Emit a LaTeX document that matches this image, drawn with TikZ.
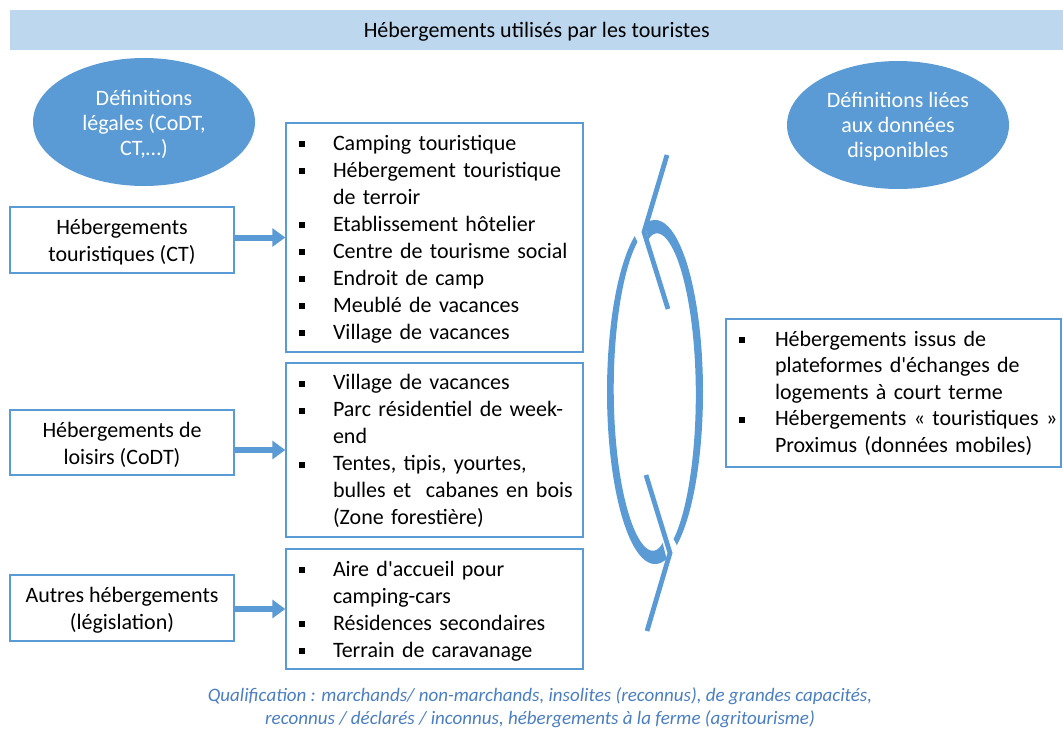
\documentclass[tikz,border=0pt]{standalone}
\usepackage{fontspec}
\setmainfont{Carlito}[Ligatures=TeXOff]
\usetikzlibrary{arrows.meta,shapes.geometric}
\definecolor{mblue}{HTML}{5B9BD5}
\definecolor{lblue}{HTML}{BDD7EE}
\definecolor{capblue}{HTML}{4A7EC2}
\newcommand{\bul}{\hspace{7pt}\rule[3pt]{6pt}{6pt}}
\newcommand{\shiftdown}[2]{\raisebox{-#1}[\height][\depth]{#2}}
\tikzset{
  box/.style={draw=mblue, line width=1.4pt, rectangle, inner sep=0pt, align=center, font=\fontsize{22}{27}\selectfont},
  listbox/.style={draw=mblue, line width=1.4pt, rectangle, inner xsep=6pt, inner ysep=0pt, align=left, font=\fontsize{22}{27}\selectfont},
  ell/.style={ellipse, fill=mblue, text=white, inner sep=0pt, minimum width=222pt, minimum height=128pt, align=center, font=\fontsize{22}{25}\selectfont},
  bigarrow/.style={draw=mblue, line width=6pt, -{Triangle[length=13pt,width=18pt]}},
  circarrow/.style={fill=mblue},
  chev/.style={draw=mblue, line width=4.8pt, line join=miter}
}
\begin{document}
\begin{tikzpicture}[x=1pt,y=-1pt]
\useasboundingbox (0,0) rectangle (1063,729);
% title bar
\node[fill=lblue, minimum width=1053pt, minimum height=40pt, inner sep=0pt, anchor=north west, font=\fontsize{22}{27}\selectfont] (title) at (10,10) {\shiftdown{2pt}{Hébergements utilisés par les touristes}};
% ellipses
\node[ell] (e1) at (144,122) {\shiftdown{3pt}{\begin{tabular}{@{}c@{}}Définitions\\légales (CoDT,\\CT,…)\end{tabular}}};
\node[ell] (e2) at (898,125) {\shiftdown{2pt}{\begin{tabular}{@{}c@{}}Définitions liées\\aux données\\disponibles\end{tabular}}};
% left boxes
\node[box, minimum width=224pt, minimum height=66pt] (b1) at (122,240) {\shiftdown{3pt}{\begin{tabular}{@{}c@{}}Hébergements\\touristiques (CT)\end{tabular}}};
\node[box, minimum width=224pt, minimum height=65pt] (b2) at (122,442.5) {\shiftdown{3pt}{\begin{tabular}{@{}c@{}}Hébergements de\\loisirs (CoDT)\end{tabular}}};
\node[box, minimum width=224pt, minimum height=66pt] (b3) at (122,608) {\shiftdown{3pt}{\begin{tabular}{@{}c@{}}Autres hébergements\\(législation)\end{tabular}}};
% lists
\node[listbox, text width=285pt, minimum height=229pt] (l1) at (434.5,237.5) {\shiftdown{2pt}{%
\begin{tabular}{@{}p{41pt}@{}l@{}}
\bul & Camping touristique\\
\bul & Hébergement touristique\\
     & de terroir\\
\bul & Etablissement hôtelier\\
\bul & Centre de tourisme social\\
\bul & Endroit de camp\\
\bul & Meublé de vacances\\
\bul & Village de vacances
\end{tabular}}};
\node[listbox, text width=285pt, minimum height=174pt] (l2) at (434.5,450) {\shiftdown{2pt}{%
\begin{tabular}{@{}p{41pt}@{}l@{}}
\bul & Village de vacances\\
\bul & Parc résidentiel de week-\\
     & end\\
\bul & Tentes, tipis, yourtes,\\
     & bulles et\ \ cabanes en bois\\
     & (Zone forestière)
\end{tabular}}};
\node[listbox, text width=285pt, minimum height=120pt] (l3) at (434.5,609) {\shiftdown{2.5pt}{%
\begin{tabular}{@{}p{41pt}@{}l@{}}
\bul & Aire d'accueil pour\\
     & camping-cars\\
\bul & Résidences secondaires\\
\bul & Terrain de caravanage
\end{tabular}}};
\node[listbox, text width=323pt, minimum height=148pt, font=\fontsize{22}{26.5}\selectfont] (r) at (893.5,393) {\shiftdown{1pt}{%
\begin{tabular}{@{}p{43pt}@{}l@{}}
\bul & Hébergements issus de\\
     & plateformes d'échanges de\\
     & logements à court terme\\
\bul & Hébergements « touristiques »\\
     & Proximus (données mobiles)
\end{tabular}}};
% arrows
\draw[bigarrow] (l1.west -| b1.east) -- (l1.west);
\draw[bigarrow] (l2.west -| b2.east) -- (l2.west);
\draw[bigarrow] (l3.west -| b3.east) -- (l3.west);
% circular arrows
\fill[circarrow] plot[domain=102:-63,samples=100,variable=\t] ({655+48*cos(\t)},{392-172*sin(\t)}) -- plot[domain=-63:102,samples=100,variable=\t] ({655+(48-(7+9*((\t+63)/165)^4))*cos(\t)},{392-(172-(7+9*((\t+63)/165)^4))*sin(\t)}) -- cycle;
\fill[circarrow] plot[domain=115:284,samples=100,variable=\t] ({655+48*cos(\t)},{392-172*sin(\t)}) -- plot[domain=284:115,samples=100,variable=\t] ({655+(48-(6.5+10*((\t-115)/169)^4))*cos(\t)},{392-(172-(6.5+10*((\t-115)/169)^4))*sin(\t)}) -- cycle;
\coordinate (ta) at (667,155);
\coordinate (tb) at (644,232);
\coordinate (tc) at (668,309);
\coordinate (ba) at (646,475);
\coordinate (bb) at (670,553);
\coordinate (bc) at (647,631);
\draw[chev] (ta) -- (tb) -- (tc);
\draw[chev] (ba) -- (bb) -- (bc);
% caption
\node[text=capblue, align=center, font=\itshape\fontsize{19}{23}\selectfont] (cap) at (540,708) {Qualification : marchands/ non-marchands, insolites (reconnus), de grandes capacités,\\reconnus / déclarés / inconnus, hébergements à la ferme (agritourisme)};
\end{tikzpicture}
\end{document}
